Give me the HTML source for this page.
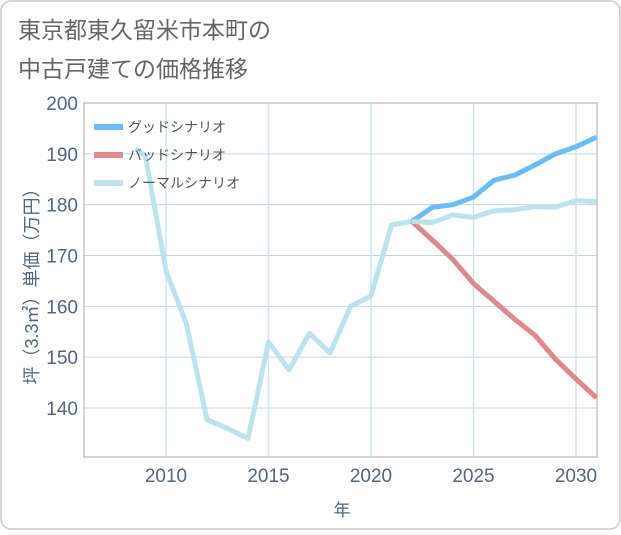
<!DOCTYPE html>
<html><head><meta charset="utf-8"><style>
body{margin:0;background:#fff;font-family:"Liberation Sans","Noto Sans CJK JP",sans-serif;}
#wrap{position:relative;width:621px;height:530px;}
</style></head><body>
<div id="wrap">
<svg id="chart" width="621" height="530">
<rect x="1" y="1" width="619" height="528" rx="10" fill="#fff" stroke="#ccc" stroke-width="1.5"/>
<text x="18" y="38" font-size="23" fill="#666">東京都東久留米市本町の</text>
<text x="18" y="77" font-size="23" fill="#666">中古戸建ての価格推移</text>
<g id="grid"></g><g id="axes"></g><g id="series"></g><g id="legend"></g>
<text x="342" y="516" font-size="17" fill="#51677d" text-anchor="middle">年</text>
<text transform="translate(38,282) rotate(-90)" font-size="18" fill="#51677d" text-anchor="middle">坪（3.3㎡）単価（万円）</text>
</svg></div>
<script>
const yTicks=[140,150,160,170,180,190,200];
const xTicks=[2010,2015,2020,2025,2030];
const normalYears=[2008.5,2009,2010,2011,2012,2013,2014,2015,2016,2017,2018,2019,2020,2021,2022,2023,2024,2025,2026,2027,2028,2029,2030,2031];
const normalVals=[191,189.5,167,156.5,137.7,136,134,153,147.5,154.7,150.8,160,162,176,176.7,176.5,178,177.5,178.8,179,179.6,179.5,180.8,180.6];
const scenYears=[2022,2023,2024,2025,2026,2027,2028,2029,2030,2031];
const goodVals=[176.7,179.5,180,181.5,184.8,185.8,187.8,190,191.4,193.3];
const badVals=[176.7,173,169.2,164.5,161,157.5,154.3,149.6,145.7,142];
const L=84,R=597,T=103,B=457;
const x=v=>166+(v-2010)*20.5;
const y=v=>408-(v-140)*5.083;
const NS="http://www.w3.org/2000/svg";
function mk(t,a,p){const e=document.createElementNS(NS,t);for(const k in a)e.setAttribute(k,a[k]);p.appendChild(e);return e;}
const grid=document.getElementById('grid'),axes=document.getElementById('axes'),ser=document.getElementById('series'),leg=document.getElementById('legend');
yTicks.forEach(v=>{const l=mk('line',{x1:L,x2:R,y1:y(v),y2:y(v),stroke:'#c0d6e4','stroke-width':1},grid);


const t=mk('text',{x:L-6,y:y(v)+7,'font-size':19,fill:'#51677d','text-anchor':'end'},axes);t.textContent=v;

});
xTicks.forEach(v=>{const l=mk('line',{x1:x(v),x2:x(v),y1:T,y2:B,stroke:'#cce5ef','stroke-width':1.5},grid);


const t=mk('text',{x:x(v),y:B+25,'font-size':19,fill:'#51677d','text-anchor':'middle'},axes);t.textContent=v;

});
const fr=mk('rect',{x:L,y:T,width:R-L,height:B-T,fill:'none',stroke:'#aaa','stroke-width':1},axes);


function line(xs,vs,c,n){const p=mk('polyline',{points:xs.map((d,i)=>x(d)+','+y(vs[i])).join(' '),fill:'none',stroke:c,'stroke-width':5,'stroke-linejoin':'round'},ser);

}
line(normalYears,normalVals,'#bde2ee','normal-scenario-line');
line(scenYears,badVals,'#e0888f','bad-scenario-line');
line(scenYears,goodVals,'#6cbcf5','good-scenario-line');
line(scenYears.slice(0,2),normalVals.slice(14,16),'#bde2ee','normal-scenario-overlap');
[['グッドシナリオ','#6cbcf5'],['バッドシナリオ','#e0888f'],['ノーマルシナリオ','#bde2ee']].forEach((d,i)=>{
const yy=127+i*28;
const l=mk('line',{x1:94,x2:123,y1:yy,y2:yy,stroke:d[1],'stroke-width':6},leg);


const t=mk('text',{x:128,y:yy+5,'font-size':14,fill:'#555'},leg);t.textContent=d[0];

});
</script></body></html>
